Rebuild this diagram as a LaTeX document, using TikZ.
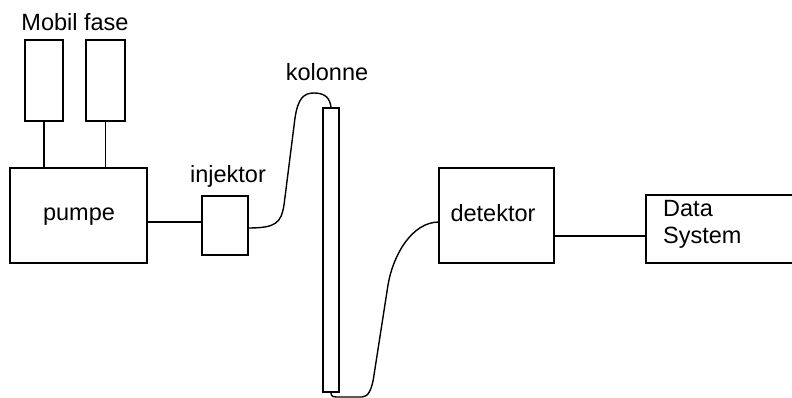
\documentclass[tikz,border=0pt]{standalone}
\usepackage{fontspec}
\setmainfont{Liberation Sans}
\begin{document}
\begin{tikzpicture}[x=1pt,y=-1pt,
  box/.style={draw,line width=1.4pt,rectangle,inner sep=0pt},
  pipe/.style={line width=1.4pt},
  lbl/.style={inner sep=0pt,font=\fontsize{23.5}{27}\selectfont}]
\path[use as bounding box,clip] (0,0) rectangle (792,398);
% reservoirs and pump
\node[box,minimum width=38pt,minimum height=81pt] (b1) at (44,80.5) {};
\node[box,minimum width=39pt,minimum height=81pt] (b2) at (105.5,80.5) {};
\node[lbl] (mf) at (75,22) {Mobil fase};
\node[box,minimum width=137pt,minimum height=95pt] (pump) at (78.5,215.5) {};
\node[lbl] (pumptxt) at (79,217) {pumpe};
\draw[pipe] (b1.south) -- (b1.south |- pump.north);
\draw[pipe] (b2.south) -- (b2.south |- pump.north);
% injector
\node[box,minimum width=46pt,minimum height=59pt] (inj) at (225,225.5) {};
\node[lbl] (injtxt) at (228,176) {injektor};
\draw[pipe] (pump.east |- 0,222) -- (inj.west |- 0,222);
% column
\node[box,minimum width=16pt,minimum height=284pt] (col) at (331,250) {};
\node[lbl] (coltxt) at (327,72) {kolonne};
\coordinate (injout) at (248,228);
\draw[pipe] (injout) .. controls (276,228) and (281,223) .. (284,205)
  -- (295,118) .. controls (298,98) and (304,93) .. (314,93)
  .. controls (326,93) and (330,99) .. (col.north);
% detector
\node[box,minimum width=115pt,minimum height=95pt] (det) at (496.5,215.5) {};
\node[lbl] (dettxt) at (493,213) {detektor};
\coordinate (detin) at (439,222);
\draw[pipe] (col.south) .. controls (331,397) and (333,397) .. (340,397)
  -- (362,397) .. controls (368,397) and (372,390) .. (374,375)
  -- (388,285) .. controls (393,255) and (412,222) .. (detin);
% data system
\node[box,minimum width=160pt,minimum height=68pt] (data) at (726,229) {};
\node[lbl,anchor=west,align=left] (datatxt) at (663,224.5) {Data\\System};
\draw[pipe] (det.east |- 0,236) -- (data.west |- 0,236);
\end{tikzpicture}
\end{document}
